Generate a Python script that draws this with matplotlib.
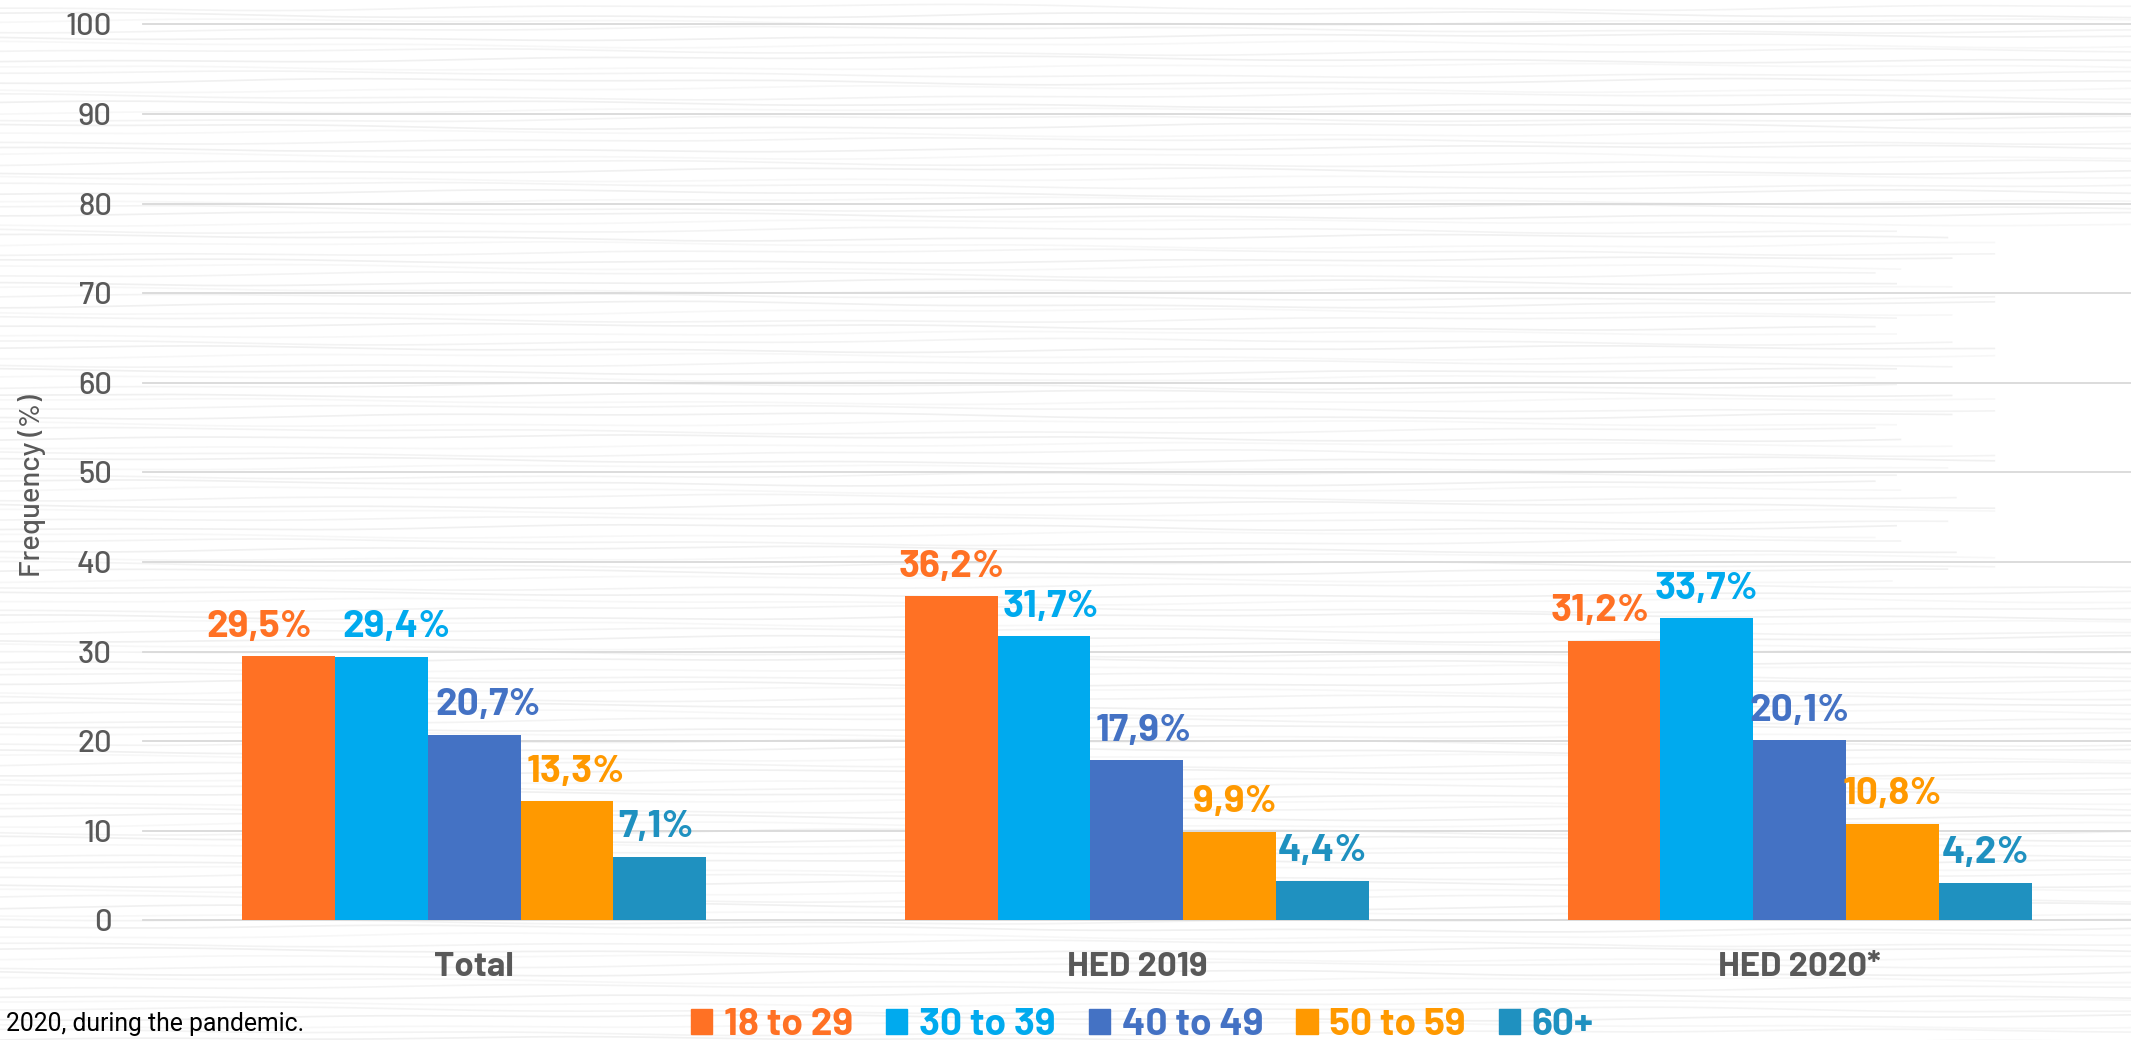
import matplotlib.pyplot as plt
import numpy as np
from matplotlib.patches import Patch

groups = ["Total", "HED 2019", "HED 2020*"]
ages = ["18 to 29", "30 to 39", "40 to 49", "50 to 59", "60+"]
values = [
    [29.5, 36.2, 31.2],
    [29.4, 31.7, 33.7],
    [20.7, 17.9, 20.1],
    [13.3, 9.9, 10.8],
    [7.1, 4.4, 4.2],
]
colors = ["#FF7124", "#00AAEE", "#4472C4", "#FF9900", "#1F91C0"]
yticks = [0, 10, 20, 30, 40, 50, 60, 70, 80, 90, 100]

# sideways nudges (points) of a few labels that would collide
label_nudge = [
    [-21, 0, -10],
    [11, 5, 0],
    [10, 5, 0],
    [6, 4, 0],
    [-3, 0, 0],
]

main_font = ["Barlow", "Roboto", "DejaVu Sans"]
note_font = ["Roboto", "DejaVu Sans"]
gray = "#595959"

fig = plt.figure(figsize=(21.31, 10.40), dpi=100)

# light streaked "paper" background
bg = fig.add_axes([0, 0, 1, 1], zorder=-10)
bg.set_xlim(0, 1)
bg.set_ylim(0, 1)
bg.axis("off")
xx = np.linspace(0, 1, 500)
for k in range(140):
    h = k / 140.0
    wave = 0.0022 * np.sin(xx * (6 + k % 5) + k * 1.7) + 0.001 * np.sin(xx * 29 + k)
    if 0.44 < h < 0.78:
        x_end = 0.91 + 0.03 * np.sin(k * 0.9)
    else:
        x_end = 1.0
    m = xx <= x_end
    shade = 0.90 + 0.025 * ((k * 7) % 3)
    bg.plot(xx[m], h + wave[m], color=(shade, shade, shade), lw=1.2, alpha=0.6)

ax = fig.add_axes([0.067, 0.115, 0.933, 0.8615])
ax.patch.set_alpha(0)

x = np.arange(len(groups))
bw = 0.14
for i, (age, vals) in enumerate(zip(ages, values)):
    pos = x + (i - 2) * bw
    bars = ax.bar(pos, vals, width=bw, color=colors[i], zorder=3)
    for j, (b, v) in enumerate(zip(bars, vals)):
        ax.annotate(f"{v:.1f}%".replace(".", ","),
                    (b.get_x() + b.get_width() / 2, v),
                    xytext=(label_nudge[i][j], 9), textcoords="offset points",
                    ha="center", va="bottom", fontsize=28,
                    fontweight="bold", color=colors[i], family=main_font)

ax.set_xlim(-0.5, 2.5)
ax.set_ylim(0, 100)
ax.set_yticks(yticks)
ax.set_yticklabels([str(t) for t in yticks], family=main_font, fontsize=22.5,
                   fontweight="medium", color=gray)
ax.set_xticks(x)
ax.set_xticklabels(groups, family=main_font, fontsize=25, fontweight="bold", color=gray)
ax.tick_params(axis="y", length=0, pad=22)
ax.tick_params(axis="x", length=0, pad=23)
ax.grid(axis="y", color="#d9d9d9", lw=1.3, zorder=0)
for gl in ax.get_ygridlines():
    gl.set_clip_on(False)
for s in ax.spines.values():
    s.set_visible(False)

fig.text(0.015, 0.533, "Frequency (%)", rotation=90, ha="center", va="center",
         family=main_font, fontsize=21, fontweight="medium", color=gray)

fig.text(0.003, 0.015, "2020, during the pandemic.", ha="left", va="center",
         family=note_font, fontsize=17.8, color="black")

handles = [Patch(color=c) for c in colors]
leg = fig.legend(handles, ages, loc="center", bbox_to_anchor=(0.536, 0.014),
                 bbox_transform=fig.transFigure, ncol=5, frameon=False,
                 handlelength=0.55, handleheight=0.6, handletextpad=0.3,
                 columnspacing=0.85, prop={"family": main_font, "size": 28, "weight": "bold"})
for txt, c in zip(leg.get_texts(), colors):
    txt.set_color(c)

fig.savefig("out.png", dpi=100)
